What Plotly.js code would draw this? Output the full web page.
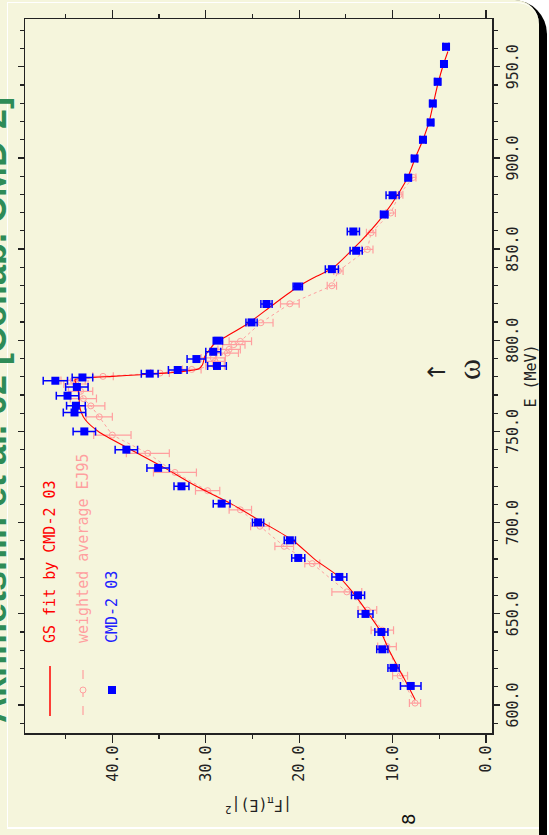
<!DOCTYPE html>
<html><head><meta charset="utf-8">
<script src="https://cdn.plot.ly/plotly-3.0.1.min.js"></script>
<style>
html,body{margin:0;padding:0;width:549px;height:835px;overflow:hidden;background:#ffffff;}
#bgL{position:absolute;left:0;top:0;width:520px;height:835px;background:#f5f5dc;}
#shadow{position:absolute;left:470px;top:0;width:77px;height:835px;background:#000;border-top-right-radius:34px;}
#panel{position:absolute;left:0;top:0;width:539px;height:835px;background:#f5f5dc;border-top-right-radius:24px;}
#frame{position:absolute;left:7px;top:2px;width:532px;height:827px;border-left:1px solid #fff;border-top:1px solid #fff;border-bottom:2px solid #fff;border-top-right-radius:22px;box-sizing:border-box;}
#plot{position:absolute;left:0;top:0;width:835px;height:549px;transform-origin:0 0;transform:translate(0,835px) rotate(-90deg);}
#strip{position:absolute;left:539px;top:40px;width:8px;height:795px;background:#000;}
#edge{position:absolute;left:547px;top:40px;width:2px;height:795px;background:#fff;}
</style></head>
<body>
<div id="bgL"></div><div id="shadow"></div><div id="panel"></div><div id="frame"></div>
<div id="plot"></div>
<div id="strip"></div><div id="edge"></div>
<script>
// GS fit by CMD-2 03 (red curve)
const E_fit = [602.9, 610, 615.7, 630.3, 640.4, 652.3, 663.2, 670.5, 679.7, 690.3, 700.1, 710.4, 719.9, 730, 740, 750, 756.4, 760.1, 763.7, 771.1, 776.6, 778.4, 779.6, 780.2, 781.1, 782, 782.9, 784.2, 786.6, 791.2, 794.8, 798.5, 802.1, 809.5, 819.5, 829.5, 833.9, 839.6, 848.7, 858.8, 868.8, 879.8, 889.9, 899.9, 910, 920, 930.1, 941.1, 951.1, 958.4];
const F2_fit = [7.58, 8.3, 8.9, 10.4, 11.3, 12.9, 14.5, 15.8, 18.3, 20.7, 23.9, 27.3, 31.0, 34.4, 38.0, 41.5, 42.9, 43.3, 43.5, 43.6, 43.9, 44.0, 42.3, 40.0, 37.0, 34.4, 32.5, 30.8, 30.35, 30.1, 29.6, 29.0, 27.8, 25.4, 22.8, 20.1, 18.6, 16.4, 14.5, 12.6, 10.95, 9.45, 8.33, 7.58, 6.75, 6.08, 5.63, 5.13, 4.57, 4.08];

// CMD-2 03 data (blue squares)
const E_cmd = [610.4, 620.3, 630.5, 640.0, 649.9, 660.1, 670.2, 680.6, 690.3, 700.1, 710.4, 719.9, 730.0, 740.0, 750.0, 760.4, 764.1, 769.6, 774.4, 777.8, 779.6, 781.7, 783.7, 785.9, 789.7, 793.7, 799.8, 809.8, 819.9, 829.5, 839.0, 849.1, 859.7, 869.0, 879.6, 889.1, 899.7, 910.0, 919.5, 929.9, 941.8, 951.5, 961.0];
const F2_cmd = [8.06, 9.9, 11.1, 11.2, 12.9, 13.7, 15.7, 20.1, 21.0, 24.4, 28.3, 32.6, 35.1, 38.5, 43.0, 44.05, 43.9, 44.8, 43.8, 46.1, 43.2, 36.0, 33.0, 28.8, 31.0, 29.2, 28.7, 25.1, 23.5, 20.15, 16.5, 13.9, 14.2, 10.9, 10.0, 8.33, 7.65, 6.75, 5.93, 5.7, 5.18, 4.5, 4.28];
const err_cmd = [1.1, 0.6, 0.6, 0.7, 0.8, 0.7, 0.8, 0.7, 0.6, 0.6, 0.9, 0.8, 1.2, 1.2, 1.2, 1.2, 1.0, 1.2, 1.2, 1.3, 1.1, 0.9, 1.0, 1.0, 1.0, 0.8, 0.5, 0.6, 0.6, 0.5, 0.7, 0.65, 0.65, 0.4, 0.7, 0.3, 0.3, 0.3, 0.3, 0.3, 0.3, 0.3, 0.3];

// weighted average EJ95 (pink)
const E_ej = [601, 616, 632, 641, 652, 662, 677.5, 687, 698, 707, 717.5, 727.5, 738, 748, 758, 764, 768, 772, 776, 778, 780.2, 782, 784, 786, 788.4, 790.3, 793, 795, 797.6, 799.4, 809.6, 820, 829.9, 838, 849.8, 859, 869.8, 879.8, 889.3];
const F2_ej = [7.6, 9.2, 10.6, 11.1, 12.7, 14.9, 18.6, 21.6, 24.2, 26.3, 29.8, 33.3, 36.2, 40.0, 41.4, 42.3, 43.1, 43.4, 43.9, 44.2, 41.0, 34.9, 31.5, 29.0, 29.0, 29.2, 27.7, 27.5, 27.0, 26.3, 24.1, 21.0, 16.5, 15.8, 12.7, 12.3, 10.2, 9.3, 7.8];
const err_ej = [0.6, 0.8, 1.0, 1.2, 1.0, 1.6, 0.8, 1.0, 1.0, 1.2, 1.3, 2.3, 2.3, 2.0, 1.4, 1.5, 1.4, 1.3, 1.3, 1.3, 1.1, 1.0, 1.0, 1.0, 1.0, 1.3, 1.2, 1.2, 1.2, 1.2, 1.3, 1.0, 0.5, 0.5, 0.6, 0.5, 0.5, 0.4, 0.3];

const legendLabels = ['GS fit by CMD-2 03', 'weighted average EJ95', 'CMD-2 03'];
const xTitle = 'E (MeV)';
const yTitle = '|F<sub>π</sub>(E)|<sup>2</sup>';
const slideTitle = 'Akhmetshin et al. 02 [Collab. CMD-2]';

const RED = '#ff0000', PINK = '#ff9f9f', BLUE = '#0000ff', INK = '#222222';
const MONO = 'DejaVu Sans Mono, monospace';

const traces = [
  {x: E_ej, y: F2_ej, mode: 'lines+markers', showlegend: false,
   line: {color: PINK, width: 1, dash: 'dot'},
   marker: {symbol: 'circle-open', size: 6, color: PINK, line: {width: 1, color: PINK}},
   error_y: {type: 'data', array: err_ej, color: PINK, thickness: 1.2, width: 4}},
  {x: E_fit, y: F2_fit, mode: 'lines', showlegend: false,
   line: {color: RED, width: 1.1, shape: 'spline', smoothing: 0.7}},
  {x: E_cmd, y: F2_cmd, mode: 'markers', showlegend: false,
   marker: {symbol: 'square', size: 8, color: BLUE},
   error_y: {type: 'data', array: err_cmd, color: BLUE, thickness: 1.5, width: 4}}
];

const L = 102, R = 19, T = 25, B = 57, W = 835, H = 549;
const pw = W - L - R, ph = H - T - B;
const px = u => (u - L) / pw;          // horizontal pixel -> paper
const py = v => 1 - (v - T) / ph;      // vertical pixel -> paper

const rows = [50, 83, 112];
const legColors = [RED, PINK, '#2020ff'];
const annotations = legendLabels.map((t, i) => ({
  text: t, xref: 'paper', yref: 'paper', x: px(190), y: py(rows[i]),
  xanchor: 'left', yanchor: 'middle', showarrow: false,
  font: {family: MONO, size: 15, color: legColors[i]}
}));
annotations.push(
  {text: slideTitle, xref: 'paper', yref: 'paper', x: px(425), y: py(16),
   xanchor: 'center', yanchor: 'bottom', showarrow: false,
   font: {family: 'Liberation Sans, Arial, sans-serif', size: 36, color: '#2e8b57', weight: 'bold'}},
  {text: '8', xref: 'paper', yref: 'paper', x: px(15), y: py(408),
   xanchor: 'center', yanchor: 'middle', showarrow: false,
   font: {family: 'DejaVu Sans, sans-serif', size: 18, color: '#111'}},
  {text: '↑', xref: 'x', yref: 'y', x: 782.7, y: 5.2, showarrow: false,
   font: {family: 'DejaVu Sans, sans-serif', size: 24, color: INK}},
  {text: 'ω', xref: 'x', yref: 'y', x: 783.8, y: 1.8, showarrow: false,
   font: {family: 'Liberation Serif, serif', size: 32, color: INK}}
);

const shapes = [
  {type: 'line', xref: 'paper', yref: 'paper', x0: px(119), x1: px(169), y0: py(rows[0]), y1: py(rows[0]), line: {color: RED, width: 1.5}},
  {type: 'line', xref: 'paper', yref: 'paper', x0: px(120), x1: px(169), y0: py(rows[1]), y1: py(rows[1]), line: {color: PINK, width: 1.2, dash: 'dash'}},
  {type: 'circle', xref: 'paper', yref: 'paper', x0: px(142), x1: px(148), y0: py(rows[1] - 3), y1: py(rows[1] + 3), line: {color: PINK, width: 1}, fillcolor: '#f5f5dc'},
  {type: 'rect', xref: 'paper', yref: 'paper', x0: px(141), x1: px(149), y0: py(rows[2] - 4), y1: py(rows[2] + 4), line: {width: 0}, fillcolor: BLUE}
];

const axisCommon = {
  ticks: 'outside', tickcolor: INK, tickwidth: 1.3, showline: true, linecolor: INK, linewidth: 1.5,
  mirror: 'ticks', showgrid: false, zeroline: false, tickformat: '.1f',
  tickfont: {family: MONO, size: 15, color: INK}
};

const layout = {
  width: W, height: H, margin: {l: L, r: R, t: T, b: B, pad: 0},
  paper_bgcolor: 'rgba(0,0,0,0)', plot_bgcolor: 'rgba(0,0,0,0)',
  showlegend: false,
  xaxis: Object.assign({}, axisCommon, {
    range: [584.6, 976.2], tick0: 600, dtick: 50, ticklen: 6,
    minor: {dtick: 10, ticklen: 4, tickwidth: 1.2, tickcolor: INK, ticks: 'outside'},
    title: {text: xTitle, standoff: 5, font: {family: MONO, size: 15, color: INK}}
  }),
  yaxis: Object.assign({}, axisCommon, {
    range: [-0.64, 49.35], tick0: 0, dtick: 10, ticklen: 8,
    minor: {dtick: 5, ticklen: 4, tickwidth: 1.2, tickcolor: INK, ticks: 'outside'},
    title: {text: yTitle, standoff: 14, font: {family: MONO, size: 15, color: INK}}
  }),
  annotations: annotations,
  shapes: shapes
};

Plotly.newPlot('plot', traces, layout, {staticPlot: true, displayModeBar: false});
</script>
</body></html>
